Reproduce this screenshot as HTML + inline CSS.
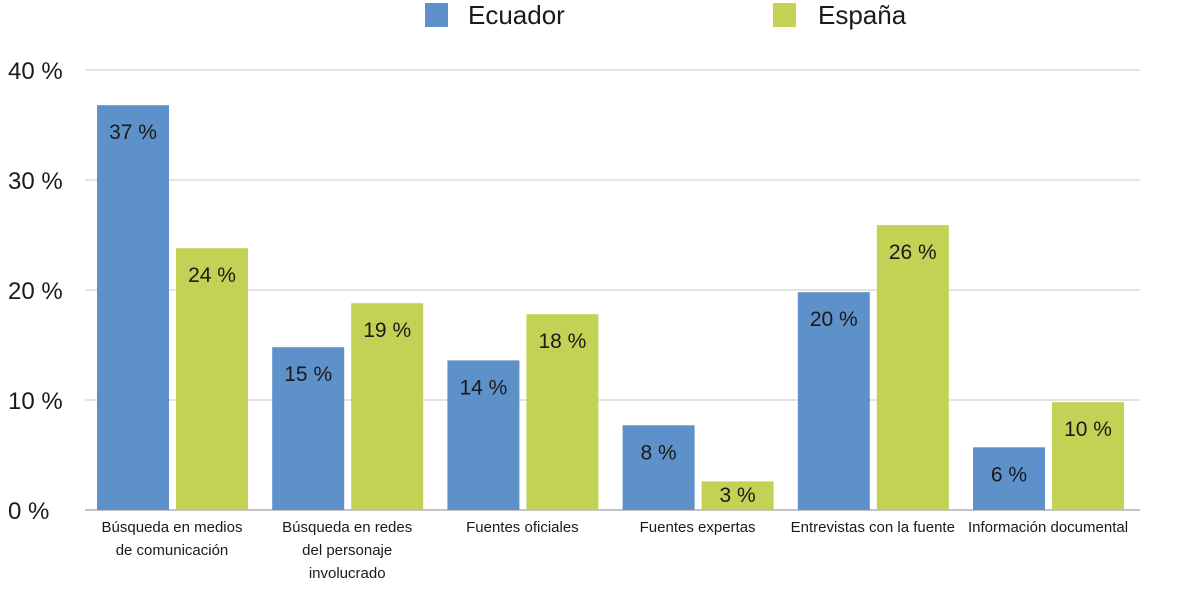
<!DOCTYPE html>
<html><head><meta charset="utf-8"><style>
body{margin:0;background:#fff;}
svg text{font-family:"Liberation Sans",sans-serif;fill:#1a1a1a;}
</style></head><body>
<svg id="chart" width="1178" height="610" xmlns="http://www.w3.org/2000/svg">
<g id="grid"></g>
<g id="yaxis"></g>
<g id="bars"></g>
<g id="xaxis"></g>
<g>
<rect x="425" y="3" width="23" height="24" fill="#5e90c9"/>
<text x="468" y="24" font-size="26">Ecuador</text>
<rect x="773" y="3" width="23" height="24" fill="#c3d155"/>
<text x="818" y="24" font-size="26">España</text>
</g>
</svg>
<script>
const categories=[["Búsqueda en medios","de comunicación"],["Búsqueda en redes","del personaje","involucrado"],["Fuentes oficiales"],["Fuentes expertas"],["Entrevistas con la fuente"],["Información documental"]];
const ecuador=[36.8,14.8,13.6,7.7,19.8,5.7];
const espana=[23.8,18.8,17.8,2.6,25.9,9.8];
const ecuadorLabels=["37 %","15 %","14 %","8 %","20 %","6 %"];
const espanaLabels=["24 %","19 %","18 %","3 %","26 %","10 %"];
const yTicks=[0,10,20,30,40];
const yTickLabels=["0 %","10 %","20 %","30 %","40 %"];
const NS="http://www.w3.org/2000/svg";
const y=v=>510-v*11;
const gx=i=>97+i*175.2;
function mk(tag,attrs,parent,txt){const e=document.createElementNS(NS,tag);for(const k in attrs)e.setAttribute(k,attrs[k]);if(txt!==undefined)e.textContent=txt;parent.appendChild(e);return e;}
const grid=document.getElementById('grid'),ya=document.getElementById('yaxis'),bars=document.getElementById('bars'),xa=document.getElementById('xaxis');
yTicks.forEach((t,i)=>{
 const l=mk('line',{x1:85,x2:1140,y1:y(t),y2:y(t),stroke:t===0?'#888':'#c8c8c8','stroke-width':1},grid);
 
 
 const tx=mk('text',{x:8,y:y(t)+9,'font-size':24},ya,yTickLabels[i]);
 
 
});
categories.forEach((c,i)=>{
 const x0=gx(i);
 [[ecuador,ecuadorLabels,'#5e90c9',0,'ecuador'],[espana,espanaLabels,'#c3d155',79,'espana']].forEach(([vals,labs,col,off,nm])=>{
  const r=mk('rect',{x:x0+off,y:y(vals[i]),width:72,height:510-y(vals[i]),fill:col},bars);
  
  
  const ly=Math.min(y(vals[i])+34,502);
  const t=mk('text',{x:x0+off+36,y:ly,'font-size':21,'text-anchor':'middle'},bars,labs[i]);
  
  
 });
 const tx=mk('text',{'font-size':15,'text-anchor':'middle'},xa);
 
 
 c.forEach((line,j)=>mk('tspan',{x:x0+75,y:532+j*23},tx,line));
});
</script>
</body></html>
